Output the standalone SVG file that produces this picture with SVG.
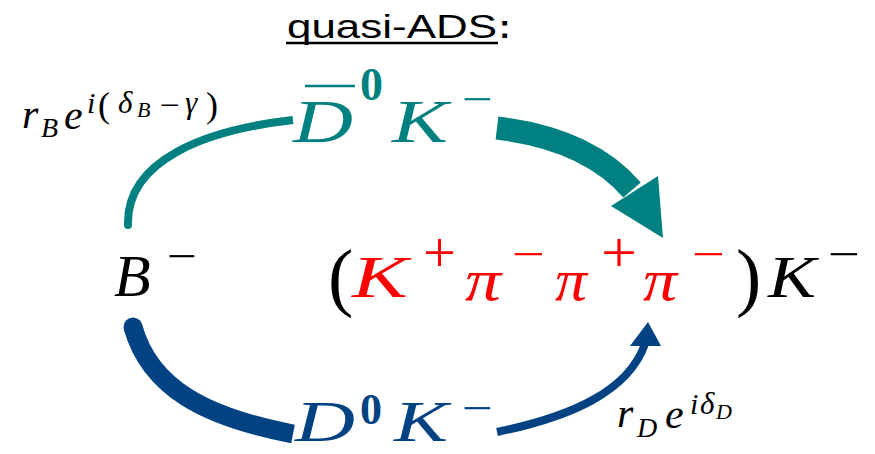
<svg xmlns="http://www.w3.org/2000/svg" width="875" height="454" viewBox="0 0 875 454">
<style>
.m{font-style:italic}
.b{font-weight:bold}
.teal{fill:#008080}
.blue{fill:#014283}
.red{fill:#ff0000}
.blk{fill:#000}
.c{fill:none}
</style>
<rect width="875" height="454" fill="#fff"/>
<g id="title">
<text x="287" y="38" font-family="'Liberation Sans',Arial,sans-serif" font-size="34" textLength="210" lengthAdjust="spacingAndGlyphs">quasi-ADS</text>
<text x="499" y="38" font-family="'Liberation Sans',Arial,sans-serif" font-size="34" font-weight="bold">:</text>
<line x1="286" y1="43" x2="498" y2="43" stroke="#000" stroke-width="2.4"/>
</g>
<g id="connectors">
<circle cx="128" cy="225" r="4" fill="#008080"/>
<path class="c" d="M128,225 C126,160 205,130 293,120" stroke="#008080" stroke-width="8"/>
<path class="c" d="M497,128 C555,135 602,155 632,190" stroke="#008080" stroke-width="23"/>
<polygon points="611,206 658,176 663,238" fill="#008080"/>
<circle cx="133" cy="327" r="9.5" fill="#014283"/>
<path class="c" d="M133,327 C150,388 205,417 293,434" stroke="#014283" stroke-width="19"/>
<path class="c" d="M497,432 C570,417 628,392 645,344" stroke="#014283" stroke-width="8"/>
<polygon points="630,346 648,322 661,346" fill="#014283"/>
</g>
<g id="label_rB" class="blk" font-family="'Liberation Serif', 'DejaVu Serif', serif">
<text class="m" x="22" y="128" font-size="42">r</text>
<text class="m" x="41" y="137" font-size="28">B</text>
<text class="m" x="64" y="129" font-size="42">e</text>
<text class="m" x="87" y="113" font-size="30">i</text>
<text x="98" y="117" font-size="36">(</text>
<text class="m" x="118" y="113" font-size="31">δ</text>
<text class="m" x="137" y="117" font-size="22">B</text>
<text x="160" y="115" font-size="30" textLength="20" lengthAdjust="spacingAndGlyphs">−</text>
<text class="m" x="185" y="113" font-size="31">γ</text>
<text x="206" y="117" font-size="36">)</text>
</g>
<g id="node_Dbar0K" class="teal" font-family="'Liberation Serif', 'DejaVu Serif', serif">
<text class="m" x="293" y="142" font-size="62" textLength="60" lengthAdjust="spacingAndGlyphs">D</text>
<line x1="305" y1="86" x2="355" y2="86" stroke="#008080" stroke-width="2.5"/>
<text class="b" x="360" y="100" font-size="46">0</text>
<text class="m" x="392" y="142" font-size="62" textLength="56" lengthAdjust="spacingAndGlyphs">K</text>
<text x="462" y="114" font-size="44" textLength="31" lengthAdjust="spacingAndGlyphs">−</text>
</g>
<g id="node_B" class="blk" font-family="'Liberation Serif', 'DejaVu Serif', serif">
<text class="m" x="114" y="296" font-size="60">B</text>
<text x="167" y="271" font-size="44" textLength="30" lengthAdjust="spacingAndGlyphs">−</text>
</g>
<g id="node_final" font-family="'Liberation Serif', 'DejaVu Serif', serif">
<text class="blk" x="328" y="302" font-size="76">(</text>
<text class="m red" x="352" y="297" font-size="60" textLength="56" lengthAdjust="spacingAndGlyphs">K</text>
<text class="red" x="423" y="272" font-size="58" textLength="33" lengthAdjust="spacingAndGlyphs">+</text>
<text class="m red" x="465" y="300" font-size="60" textLength="36" lengthAdjust="spacingAndGlyphs">π</text>
<text class="red" x="512" y="269" font-size="44" textLength="33" lengthAdjust="spacingAndGlyphs">−</text>
<text class="m red" x="555" y="300" font-size="60" textLength="32" lengthAdjust="spacingAndGlyphs">π</text>
<text class="red" x="601" y="272" font-size="58" textLength="36" lengthAdjust="spacingAndGlyphs">+</text>
<text class="m red" x="643" y="300" font-size="60" textLength="34" lengthAdjust="spacingAndGlyphs">π</text>
<text class="red" x="692" y="269" font-size="44" textLength="33" lengthAdjust="spacingAndGlyphs">−</text>
<text class="blk" x="736" y="302" font-size="76">)</text>
<text class="m blk" x="768" y="297" font-size="60" textLength="48" lengthAdjust="spacingAndGlyphs">K</text>
<text class="blk" x="828" y="269" font-size="44" textLength="32" lengthAdjust="spacingAndGlyphs">−</text>
</g>
<g id="node_D0K" class="blue" font-family="'Liberation Serif', 'DejaVu Serif', serif">
<text class="m" x="295" y="441" font-size="56" textLength="60" lengthAdjust="spacingAndGlyphs">D</text>
<text class="b" x="360" y="424" font-size="44">0</text>
<text class="m" x="394" y="441" font-size="56" textLength="54" lengthAdjust="spacingAndGlyphs">K</text>
<text x="462" y="423" font-size="44" textLength="31" lengthAdjust="spacingAndGlyphs">−</text>
</g>
<g id="label_rD" class="blk" font-family="'Liberation Serif', 'DejaVu Serif', serif">
<text class="m" x="617" y="427" font-size="42">r</text>
<text class="m" x="637" y="437" font-size="28">D</text>
<text class="m" x="665" y="428" font-size="42">e</text>
<text class="m" x="690" y="414" font-size="30">i</text>
<text class="m" x="700" y="414" font-size="31">δ</text>
<text class="m" x="716" y="419" font-size="22">D</text>
</g>
</svg>
